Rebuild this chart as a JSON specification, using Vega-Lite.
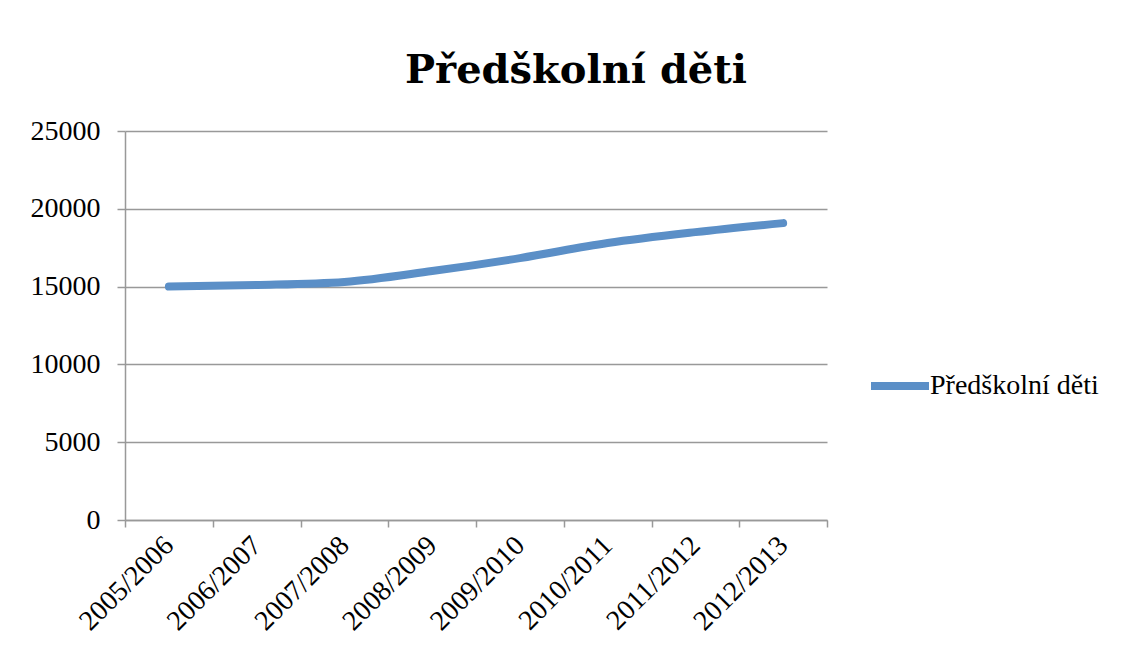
{
  "$schema": "https://vega.github.io/schema/vega-lite/v6.json",
  "autosize": "none",
  "width": 702,
  "height": 389,
  "padding": {"left": 125, "top": 131, "right": 305, "bottom": 146},
  "background": "white",
  "title": {
    "text": "Předškolní děti",
    "font": "DejaVu Serif",
    "fontSize": 40,
    "fontWeight": "bold",
    "color": "black",
    "anchor": "middle",
    "dx": 100,
    "offset": 26
  },
  "data": {
    "values": [
      {"year": "2005/2006", "value": 15000, "series": "Předškolní děti"},
      {"year": "2006/2007", "value": 15100, "series": "Předškolní děti"},
      {"year": "2007/2008", "value": 15300, "series": "Předškolní děti"},
      {"year": "2008/2009", "value": 16000, "series": "Předškolní děti"},
      {"year": "2009/2010", "value": 16830, "series": "Předškolní děti"},
      {"year": "2010/2011", "value": 17800, "series": "Předškolní děti"},
      {"year": "2011/2012", "value": 18500, "series": "Předškolní děti"},
      {"year": "2012/2013", "value": 19080, "series": "Předškolní děti"}
    ]
  },
  "mark": {"type": "line", "strokeWidth": 8, "strokeCap": "round", "strokeJoin": "round", "interpolate": "monotone"},
  "encoding": {
    "x": {
      "field": "year",
      "type": "ordinal",
      "scale": {"type": "band", "paddingInner": 0, "paddingOuter": 0},
      "axis": {
        "title": null,
        "labelAngle": -45,
        "labelAlign": "right",
        "labelBaseline": "middle",
        "labelFont": "Liberation Serif",
        "labelFontSize": 28,
        "labelColor": "black",
        "domainColor": "#999999",
        "domainWidth": 1.5,
        "tickColor": "#999999",
        "tickWidth": 1.5,
        "tickBand": "extent",
        "tickSize": 7,
        "labelPadding": 14,
        "grid": false
      }
    },
    "y": {
      "field": "value",
      "type": "quantitative",
      "scale": {"domain": [0, 25000]},
      "axis": {
        "title": null,
        "values": [0, 5000, 10000, 15000, 20000, 25000],
        "format": "d",
        "labelFont": "Liberation Serif",
        "labelFontSize": 28,
        "labelColor": "black",
        "domainColor": "#999999",
        "domainWidth": 1.5,
        "tickColor": "#999999",
        "tickWidth": 1.5,
        "tickSize": 8,
        "labelPadding": 17,
        "grid": true,
        "gridColor": "#999999",
        "gridWidth": 1.5
      }
    },
    "color": {
      "field": "series",
      "type": "nominal",
      "scale": {"range": ["#5B8FC7"]},
      "legend": {
        "title": null,
        "orient": "none",
        "legendX": 742,
        "legendY": 222,
        "symbolType": "stroke",
        "symbolSize": 3364,
        "symbolStrokeWidth": 8,
        "labelFont": "Liberation Serif",
        "labelFontSize": 28,
        "labelColor": "black",
        "labelOffset": -3,
        "labelLimit": 0
      }
    }
  },
  "config": {"view": {"stroke": null}}
}
